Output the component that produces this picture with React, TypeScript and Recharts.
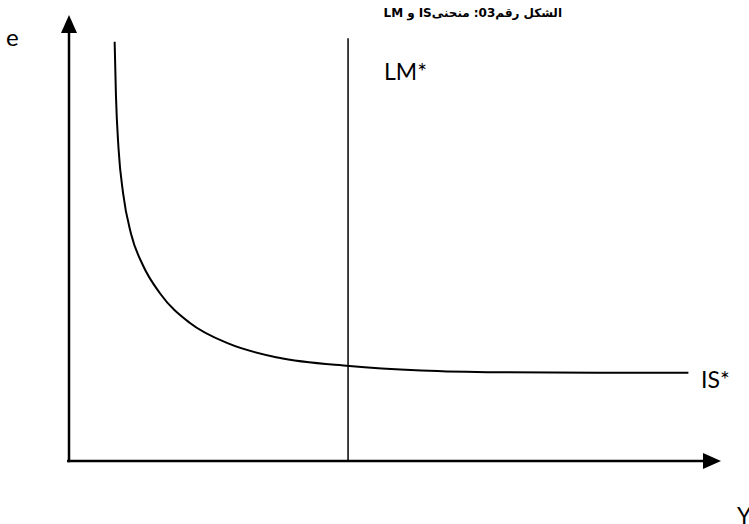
import React from "react";
import {
  ComposedChart,
  Line,
  XAxis,
  YAxis,
  ReferenceLine,
  ReferenceDot,
} from "recharts";

// IS* curve (x = output Y, y = exchange rate e)
const isX = [7, 7.2, 7.6, 8.3, 9.5, 11.3, 14, 18.5, 24.5, 32, 43, 54, 66, 81, 95];
const isY = [94, 82, 70, 60, 51, 44, 37.5, 31, 26.3, 23.2, 21.3, 20.3, 19.9, 19.8, 19.8];

// LM* vertical line
const lmX = 42.8;
const lmTop = 94.8;

// title words, logical (right-to-left) order
const titleWords = ["الشكل", "رقم03:", "منحنىIS", "و", "LM"];

const curve = isX.map((x, i) => ({ x, y: isY[i] }));

const W = 749;
const H = 524;
const LABEL_FONT = "Lato, 'Open Sans', sans-serif";

const upArrow = (p: any) => (
  <path d={`M${p.cx},${p.cy} L${p.cx - 8},${p.cy + 18} L${p.cx + 8},${p.cy + 18} Z`} fill="#000" />
);
const rightArrow = (p: any) => (
  <path d={`M${p.cx},${p.cy} L${p.cx - 18},${p.cy - 8} L${p.cx - 18},${p.cy + 8} Z`} fill="#000" />
);

export default function App() {
  return (
    <div style={{ position: "absolute", left: 0, top: 0, width: W, height: H, background: "#fff", overflow: "hidden" }}>
      <ComposedChart
        width={W}
        height={H}
        data={curve}
        margin={{ top: 15, right: 28, bottom: 63, left: 69 }}
      >
        <XAxis type="number" dataKey="x" domain={[0, 100]} hide />
        <YAxis type="number" dataKey="y" domain={[0, 100]} hide />
        {/* axes */}
        <ReferenceLine
          segment={[{ x: -0.3, y: 0 }, { x: 97.5, y: 0 }]}
          stroke="#000"
          strokeWidth={2.5}
          ifOverflow="visible"
        />
        <ReferenceLine
          segment={[{ x: 0, y: -0.3 }, { x: 0, y: 96 }]}
          stroke="#000"
          strokeWidth={2.5}
          ifOverflow="visible"
        />
        <ReferenceDot x={0} y={100} r={0} shape={upArrow} ifOverflow="visible" />
        <ReferenceDot x={100} y={0} r={0} shape={rightArrow} ifOverflow="visible" />
        {/* LM* */}
        <ReferenceLine
          segment={[{ x: lmX, y: 0 }, { x: lmX, y: lmTop }]}
          stroke="#000"
          strokeWidth={1.5}
          ifOverflow="visible"
        />
        {/* IS* */}
        <Line
          type="monotone"
          dataKey="y"
          stroke="#000"
          strokeWidth={2}
          dot={false}
          isAnimationActive={false}
        />
      </ComposedChart>
      <svg
        width={W}
        height={H}
        style={{ position: "absolute", left: 0, top: 0, pointerEvents: "none" }}
      >
        <text x={6} y={46} fontSize={24} fontFamily={LABEL_FONT} fill="#000">e</text>
        <text x={384} y={80} fontSize={23} fontFamily={LABEL_FONT} fill="#000">LM*</text>
        <text x={701} y={388} fontSize={23} fontFamily={LABEL_FONT} fill="#000">IS*</text>
        <text x={737} y={524} fontSize={23} fontFamily={LABEL_FONT} fill="#000">Y</text>
      </svg>
      <div
        dir="rtl"
        style={{
          position: "absolute",
          right: W - 562,
          top: 3,
          direction: "rtl",
          display: "flex",
          gap: 4,
          fontFamily: "'DejaVu Sans', sans-serif",
          fontWeight: "bold",
          fontSize: 12,
          lineHeight: "20px",
          whiteSpace: "nowrap",
        }}
      >
        {titleWords.map((w) => (
          <span key={w} dir="rtl">{w}</span>
        ))}
      </div>
    </div>
  );
}
